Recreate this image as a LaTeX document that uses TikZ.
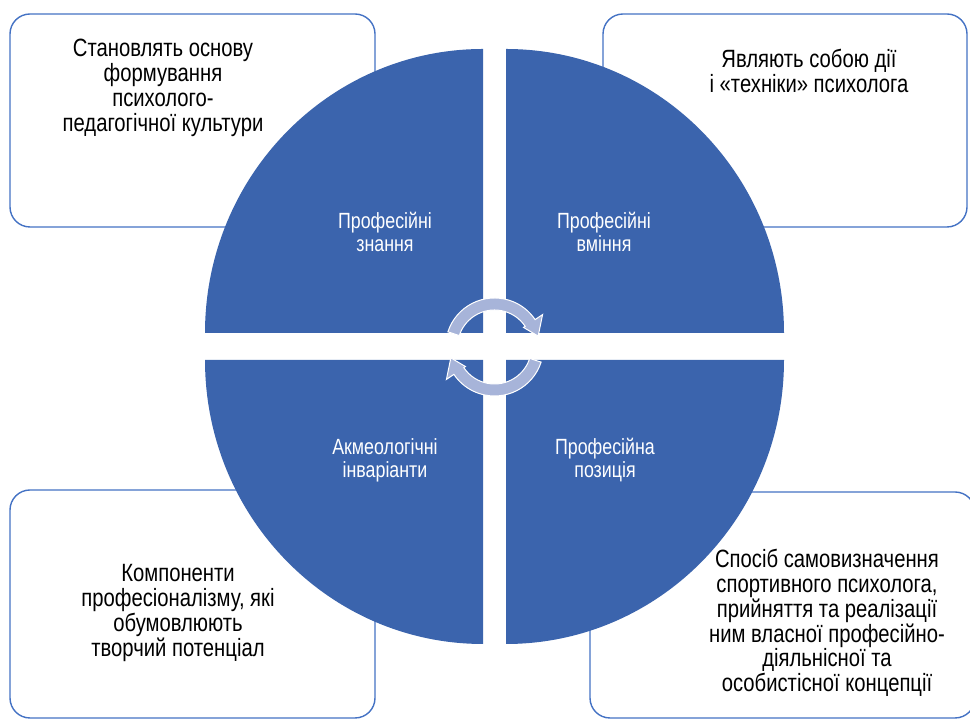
\documentclass[tikz,border=0pt]{standalone}
\usepackage{fontspec}
\setmainfont{Liberation Sans}[FakeStretch=0.81]

\definecolor{quadblue}{RGB}{59,100,173}
\definecolor{boxline}{RGB}{68,114,196}
\definecolor{cyclefill}{RGB}{167,180,217}

\begin{document}
\begin{tikzpicture}[x=1pt, y=1pt,
    infobox/.style={draw=boxline, line width=1.4pt, fill=white, rounded corners=20pt, inner sep=0pt},
    boxtext/.style={align=center, text=black, font=\fontsize{25}{24.8}\selectfont},
    quadtext/.style={align=center, text=white, font=\fontsize{22}{23}\selectfont},
    quad/.style={fill=quadblue},
    cyclearrow/.style={fill=cyclefill, draw=white, line width=1pt}]

    \useasboundingbox (0,0) rectangle (970,719);
    \clip (0,0) rectangle (970,719);

    % corner boxes
    \node[infobox, minimum width=365, minimum height=213] (kbox) at (192.5,598.5) {};
    \node[infobox, minimum width=364, minimum height=213] (sbox) at (785,598.5) {};
    \node[infobox, minimum width=365, minimum height=228] (ibox) at (192.5,115) {};
    \node[infobox, minimum width=385, minimum height=226] (pbox) at (782.5,114) {};

    % box texts
    \node[boxtext] (ktext) at (163,631) {Становлять основу\\формування\\психолого-\\педагогічної культури};
    \node[boxtext] (stext) at (809,648) {Являють собою дії\\і «техніки» психолога};
    \node[boxtext] (itext) at (178,106) {Компоненти\\професіоналізму, які\\обумовлюють\\творчий потенціал};
    \node[boxtext] (ptext) at (827,96) {Спосіб самовизначення\\спортивного психолога,\\прийняття та реалізації\\ним власної професійно-\\діяльнісної та\\особистісної концепції};

    % four quarters of the circle
    \foreach \cx/\cy/\a in {483/386/90, 506/386/0, 506/359/-90, 483/359/-180}
    {
        \fill[quad] (\cx,\cy) -- ++({278*cos(\a+90)},{284*sin(\a+90)})
            arc[start angle=\a+90, end angle=\a, x radius=278, y radius=284] -- cycle;
    }

    % quarter labels
    \node[quadtext] (know) at (385,487) {Професійні\\знання};
    \node[quadtext] (skill) at (604,487) {Професійні\\вміння};
    \node[quadtext] (invar) at (385,259) {Акмеологічні\\інваріанти};
    \node[quadtext] (posit) at (605,259) {Професійна\\позиція};

    % cycle arrows
    \coordinate (cyc) at (494.5,372);
    \foreach \r in {0, 180}
    {
        \filldraw[cyclearrow] ([shift={(162+\r:49)}]cyc)
            arc[start angle=162+\r, end angle=34+\r, radius=49]
            -- ([shift={(34+\r:58)}]cyc) -- ([shift={(14+\r:45)}]cyc) -- ([shift={(34+\r:35)}]cyc)
            -- ([shift={(34+\r:37)}]cyc)
            arc[start angle=34+\r, end angle=162+\r, radius=37] -- cycle;
    }
\end{tikzpicture}
\end{document}
